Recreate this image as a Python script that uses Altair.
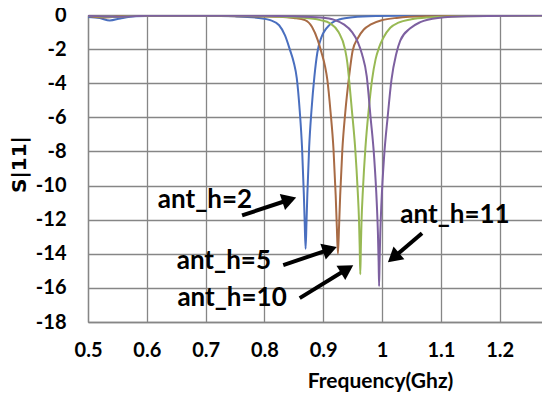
import math
import altair as alt
import pandas as pd

# ---------------- data ----------------
series_names = ["ant_h=2", "ant_h=5", "ant_h=10", "ant_h=11"]
series_colors = ["#4A6FBF", "#A86B45", "#98B954", "#7D60A0"]

freq_h2 = [0.500, 0.520, 0.537, 0.555, 0.580, 0.620, 0.700, 0.750, 0.790, 0.810,
           0.825, 0.835, 0.843, 0.850, 0.855, 0.860, 0.864, 0.867, 0.8685, 0.870,
           0.8715, 0.873, 0.876, 0.880, 0.885, 0.890, 0.897, 0.905, 0.915, 0.930,
           0.950, 0.990, 1.070, 1.280]
s11_h2 = [-0.12, -0.18, -0.32, -0.20, -0.08, -0.05, -0.05, -0.08, -0.17, -0.30,
          -0.60, -1.20, -2.00, -2.80, -3.70, -5.60, -7.80, -10.50, -12.20, -13.70,
          -12.20, -10.50, -7.80, -5.60, -3.60, -2.20, -1.30, -0.80, -0.45, -0.23,
          -0.13, -0.06, -0.03, -0.02]

freq_h5 = [0.500, 0.530, 0.560, 0.650, 0.720, 0.775, 0.825, 0.850, 0.869, 0.881,
           0.891, 0.897, 0.903, 0.907, 0.9125, 0.9175, 0.9212, 0.9231, 0.925, 0.9269,
           0.9288, 0.9325, 0.9375, 0.944, 0.950, 0.959, 0.969, 0.981, 1.000, 1.025,
           1.075, 1.175, 1.280]
s11_h5 = [-0.06, -0.15, -0.06, -0.04, -0.05, -0.08, -0.10, -0.17, -0.30, -0.70,
          -1.50, -2.20, -3.00, -3.80, -5.70, -7.90, -10.60, -12.40, -14.00, -12.40,
          -10.60, -7.90, -5.70, -3.60, -2.10, -1.35, -0.85, -0.55, -0.30, -0.17,
          -0.08, -0.04, -0.02]

freq_h10 = [0.500, 0.540, 0.580, 0.750, 0.820, 0.860, 0.895, 0.912, 0.926, 0.937,
            0.941, 0.944, 0.9485, 0.9543, 0.9586, 0.9608, 0.962, 0.963, 0.964, 0.9652,
            0.9674, 0.9717, 0.9775, 0.983, 0.989, 0.995, 1.002, 1.014, 1.028, 1.050,
            1.079, 1.133, 1.280]
s11_h10 = [-0.05, -0.12, -0.05, -0.05, -0.09, -0.15, -0.30, -0.50, -1.00, -2.00,
           -2.80, -3.80, -5.50, -7.80, -10.30, -12.00, -13.60, -15.20, -13.60, -12.00,
           -10.30, -7.80, -5.50, -3.80, -2.60, -1.90, -1.35, -0.75, -0.45, -0.25,
           -0.14, -0.07, -0.03]

freq_h11 = [0.500, 0.550, 0.600, 0.800, 0.850, 0.895, 0.920, 0.935, 0.949, 0.959,
            0.966, 0.974, 0.9805, 0.9865, 0.991, 0.993, 0.9942, 0.995, 0.9958, 0.997,
            0.999, 1.0035, 1.0095, 1.016, 1.024, 1.031, 1.048, 1.065, 1.095, 1.145,
            1.280]
s11_h11 = [-0.05, -0.10, -0.05, -0.05, -0.08, -0.15, -0.30, -0.55, -1.00, -1.60,
           -2.30, -3.60, -6.00, -8.30, -11.00, -12.80, -14.50, -15.90, -14.50, -12.80,
           -11.00, -8.30, -6.00, -3.80, -2.30, -1.50, -0.78, -0.42, -0.17, -0.07,
           -0.03]

x_ticks = [0.5, 0.6, 0.7, 0.8, 0.9, 1.0, 1.1, 1.2]
y_ticks = [0, -2, -4, -6, -8, -10, -12, -14, -16, -18]

# annotations: label text and position, arrow tail and tip (data coordinates)
ann_labels = ["ant_h=2", "ant_h=5", "ant_h=10", "ant_h=11"]
ann_label_x = [0.699, 0.731, 0.745, 1.124]
ann_label_y = [-10.85, -14.4, -16.6, -11.7]
arrow_tail_x = [0.762, 0.832, 0.860, 1.068]
arrow_tail_y = [-11.75, -14.67, -16.6, -12.8]
arrow_tip_x = [0.854, 0.923, 0.951, 1.010]
arrow_tip_y = [-10.7, -13.6, -14.67, -14.5]

# ---------------- layout ----------------
X_MIN, X_MAX = 0.5, 1.272
Y_MIN, Y_MAX = -18, 0
W, H = 454, 307
PX_X = W / (X_MAX - X_MIN)
PX_Y = H / (Y_MAX - Y_MIN)
FONT = "Lato"

rows = []
for name, fs, vs in zip(series_names,
                        [freq_h2, freq_h5, freq_h10, freq_h11],
                        [s11_h2, s11_h5, s11_h10, s11_h11]):
    for f, v in zip(fs, vs):
        rows.append({"series": name, "freq": f, "s11": v})
df = pd.DataFrame(rows)

lab_df = pd.DataFrame({"label": ann_labels, "x": ann_label_x, "y": ann_label_y})

# arrowhead (triangle-up) geometry
HEAD_SIZE = 280
r = math.sqrt(HEAD_SIZE) / 2
h = math.sqrt(3) / 2 * r
arr_rows = []
for tx, ty, px, py in zip(arrow_tail_x, arrow_tail_y, arrow_tip_x, arrow_tip_y):
    dx = (px - tx) * PX_X
    dy = -(py - ty) * PX_Y
    L = math.hypot(dx, dy)
    ux, uy = dx / L, dy / L
    ang = math.degrees(math.atan2(dx, -dy)) % 360
    cx = px - ux * h / PX_X
    cy = py + uy * h / PX_Y
    arr_rows.append({"x": tx, "y": ty, "x2": cx, "y2": cy, "hx": cx, "hy": cy, "angle": ang})
arr_df = pd.DataFrame(arr_rows)

xs = alt.Scale(domain=[X_MIN, X_MAX], nice=False, zero=False)
ys = alt.Scale(domain=[Y_MIN, Y_MAX], nice=False, zero=False)

x_axis = alt.Axis(values=x_ticks, format="~g", grid=True, ticks=False,
                  labelFont=FONT, labelFontWeight="bold", labelFontSize=20,
                  labelColor="black", labelPadding=18, labelFlush=False,
                  labelOverlap=False, labelBound=False,
                  title="Frequency(Ghz)", titleFont=FONT, titleFontWeight="bold",
                  titleFontSize=21, titleColor="black", titleX=292, titleY=59,
                  titleBaseline="middle", titleAlign="center", titleAnchor="start")
y_axis = alt.Axis(values=y_ticks, grid=True, ticks=False,
                  labelExpr="datum.value == 0 ? '0' : '-' + abs(datum.value)",
                  labelFont=FONT, labelFontWeight="bold", labelFontSize=20,
                  labelColor="black", labelPadding=22, labelFlush=False,
                  labelOverlap=False, labelBound=False,
                  title="S|11|", titleFont="DejaVu Sans", titleFontWeight="bold",
                  titleFontSize=20, titleColor="black", titleAngle=270,
                  titleX=-69, titleY=149, titleAlign="center",
                  titleBaseline="middle", titleAnchor="start")

lines = alt.Chart(df).mark_line(strokeWidth=2, clip=True, interpolate="monotone").encode(
    x=alt.X("freq:Q", scale=xs, axis=x_axis),
    y=alt.Y("s11:Q", scale=ys, axis=y_axis),
    color=alt.Color("series:N", scale=alt.Scale(domain=series_names, range=series_colors),
                    legend=None),
    order=alt.Order("freq:Q"),
    detail="series:N",
)

rules = alt.Chart(arr_df).mark_rule(strokeWidth=4, color="black").encode(
    x=alt.X("x:Q", scale=xs, axis=x_axis), y=alt.Y("y:Q", scale=ys, axis=y_axis),
    x2="x2:Q", y2="y2:Q",
)

heads = alt.Chart(arr_df).mark_point(shape="triangle-up", filled=True, opacity=1,
                                     color="black", size=HEAD_SIZE, strokeWidth=0).encode(
    x=alt.X("hx:Q", scale=xs, axis=x_axis), y=alt.Y("hy:Q", scale=ys, axis=y_axis),
    angle=alt.Angle("angle:Q", scale=None),
)

texts = alt.Chart(lab_df).mark_text(font=FONT, fontWeight="bold", fontSize=26,
                                    color="black", align="center", baseline="middle").encode(
    x=alt.X("x:Q", scale=xs, axis=x_axis), y=alt.Y("y:Q", scale=ys, axis=y_axis),
    text="label:N",
)

chart = alt.layer(lines, rules, heads, texts).properties(
    width=W, height=H,
    autosize=alt.AutoSizeParams(type="none"),
    padding={"left": 80, "top": 7, "right": 0, "bottom": 76},
    background="white",
).configure_view(stroke=None).configure_axis(
    gridColor="#868686", gridWidth=1.3, gridOpacity=1,
    domainColor="#868686", domainWidth=1.3,
)

chart.save("out.html", embed_options={"renderer": "svg", "actions": False})
